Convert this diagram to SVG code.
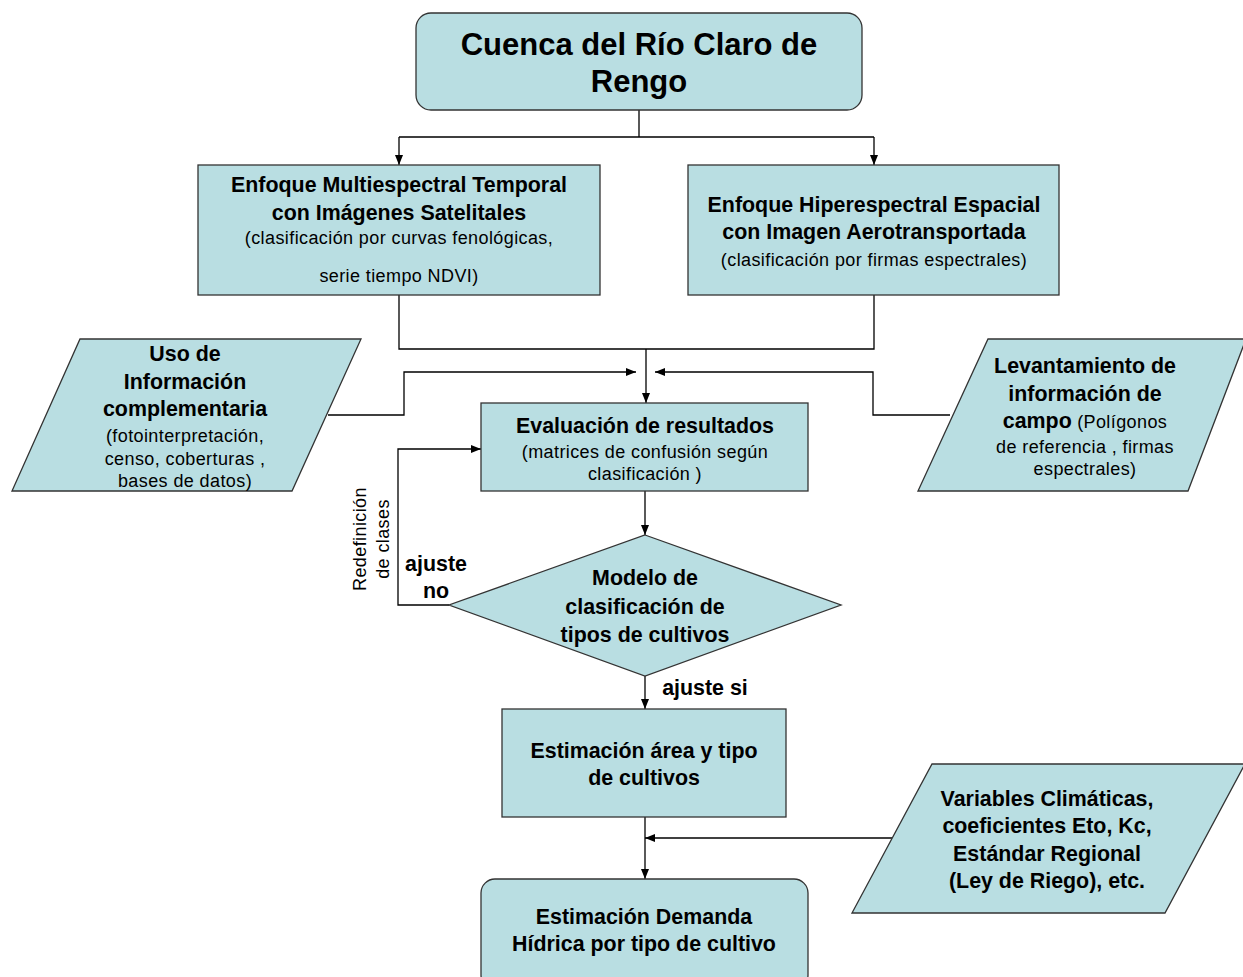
<svg xmlns="http://www.w3.org/2000/svg" width="1243" height="977" viewBox="0 0 1243 977">
<defs>
<marker id="ah" viewBox="0 0 10 10" refX="10" refY="5" markerWidth="10" markerHeight="10" markerUnits="userSpaceOnUse" orient="auto">
<path d="M0,1 L10,5 L0,9 Z" fill="#000"/>
</marker>
<style>
.n{fill:#b9dee2;stroke:#333;stroke-width:1.3}
.c{fill:none;stroke:#000;stroke-width:1.3}
text{font-family:"Liberation Sans",Arial,sans-serif;fill:#000;text-anchor:middle}
.h{font-weight:bold;font-size:21.4px}
.s{font-size:18px;letter-spacing:0.4px}
.t{font-weight:bold;font-size:31px}
</style>
</defs>
<rect width="1243" height="977" fill="#fff"/>
<g id="connectors">
<path class="c" d="M639,110 V137 M399,137 H874"/>
<path class="c" d="M399,137 V165" marker-end="url(#ah)"/>
<path class="c" d="M874,137 V165" marker-end="url(#ah)"/>
<path class="c" d="M399,295 V349 H874 V295"/>
<path class="c" d="M646,349 V403" marker-end="url(#ah)"/>
<path class="c" d="M328,415 H404 V372 H636" marker-end="url(#ah)"/>
<path class="c" d="M950,415 H873 V372 H655" marker-end="url(#ah)"/>
<path class="c" d="M645,491 V535" marker-end="url(#ah)"/>
<path class="c" d="M449,605 H398 V449 H481" marker-end="url(#ah)"/>
<path class="c" d="M645,676 V709" marker-end="url(#ah)"/>
<path class="c" d="M645,817 V879" marker-end="url(#ah)"/>
<path class="c" d="M893,838 H645" marker-end="url(#ah)"/>
</g>
<g id="n-cuenca">
<rect class="n" x="416" y="13" width="446" height="97" rx="15"/>
<text class="t" x="639" y="55">Cuenca del Río Claro de</text>
<text class="t" x="639" y="92">Rengo</text>
</g>
<g id="n-multi">
<rect class="n" x="198" y="165" width="402" height="130"/>
<text class="h" x="399" y="192">Enfoque Multiespectral Temporal</text>
<text class="h" x="399" y="220">con Imágenes Satelitales</text>
<text class="s" x="399" y="244">(clasificación por curvas fenológicas,</text>
<text class="s" x="399" y="282">serie tiempo NDVI)</text>
</g>
<g id="n-hiper">
<rect class="n" x="688" y="165" width="371" height="130"/>
<text class="h" x="874" y="212">Enfoque Hiperespectral Espacial</text>
<text class="h" x="874" y="239">con Imagen Aerotransportada</text>
<text class="s" x="874" y="266">(clasificación por firmas espectrales)</text>
</g>
<g id="n-uso">
<polygon class="n" points="80,339 361,339 292,491 12,491"/>
<text class="h" x="185" y="361">Uso de</text>
<text class="h" x="185" y="389">Información</text>
<text class="h" x="185" y="416">complementaria</text>
<text class="s" x="185" y="442">(fotointerpretación,</text>
<text class="s" x="185" y="465">censo, coberturas ,</text>
<text class="s" x="185" y="487">bases de datos)</text>
</g>
<g id="n-levant">
<polygon class="n" points="988,339 1246,339 1188,491 918,491"/>
<text class="h" x="1085" y="373">Levantamiento de</text>
<text class="h" x="1085" y="401">información de</text>
<text x="1085" y="428"><tspan class="h">campo</tspan><tspan class="s"> (Polígonos</tspan></text>
<text class="s" x="1085" y="453">de referencia , firmas</text>
<text class="s" x="1085" y="475">espectrales)</text>
</g>
<g id="n-eval">
<rect class="n" x="481" y="403" width="327" height="88"/>
<text class="h" x="645" y="433">Evaluación de resultados</text>
<text class="s" x="645" y="458">(matrices de confusión según</text>
<text class="s" x="645" y="480">clasificación )</text>
</g>
<g id="n-modelo">
<polygon class="n" points="645,535 841,605 645,676 449,605"/>
<text class="h" x="645" y="585">Modelo de</text>
<text class="h" x="645" y="614">clasificación de</text>
<text class="h" x="645" y="642">tipos de cultivos</text>
</g>
<g id="labels">
<text class="h" x="436" y="571">ajuste</text>
<text class="h" x="436" y="598">no</text>
<text class="s" transform="translate(366,539) rotate(-90)">Redefinición</text>
<text class="s" transform="translate(389,539) rotate(-90)">de clases</text>
<text class="h" x="705" y="695">ajuste si</text>
</g>
<g id="n-estim">
<rect class="n" x="502" y="709" width="284" height="108"/>
<text class="h" x="644" y="758">Estimación área y tipo</text>
<text class="h" x="644" y="785">de cultivos</text>
</g>
<g id="n-vars">
<polygon class="n" points="932,764 1245,764 1165,913 852,913"/>
<text class="h" x="1047" y="806">Variables Climáticas,</text>
<text class="h" x="1047" y="833">coeficientes Eto, Kc,</text>
<text class="h" x="1047" y="861">Estándar Regional</text>
<text class="h" x="1047" y="888">(Ley de Riego), etc.</text>
</g>
<g id="n-demanda">
<rect class="n" x="481" y="879" width="327" height="110" rx="14"/>
<text class="h" x="644" y="924">Estimación Demanda</text>
<text class="h" x="644" y="951">Hídrica por tipo de cultivo</text>
</g>
</svg>
